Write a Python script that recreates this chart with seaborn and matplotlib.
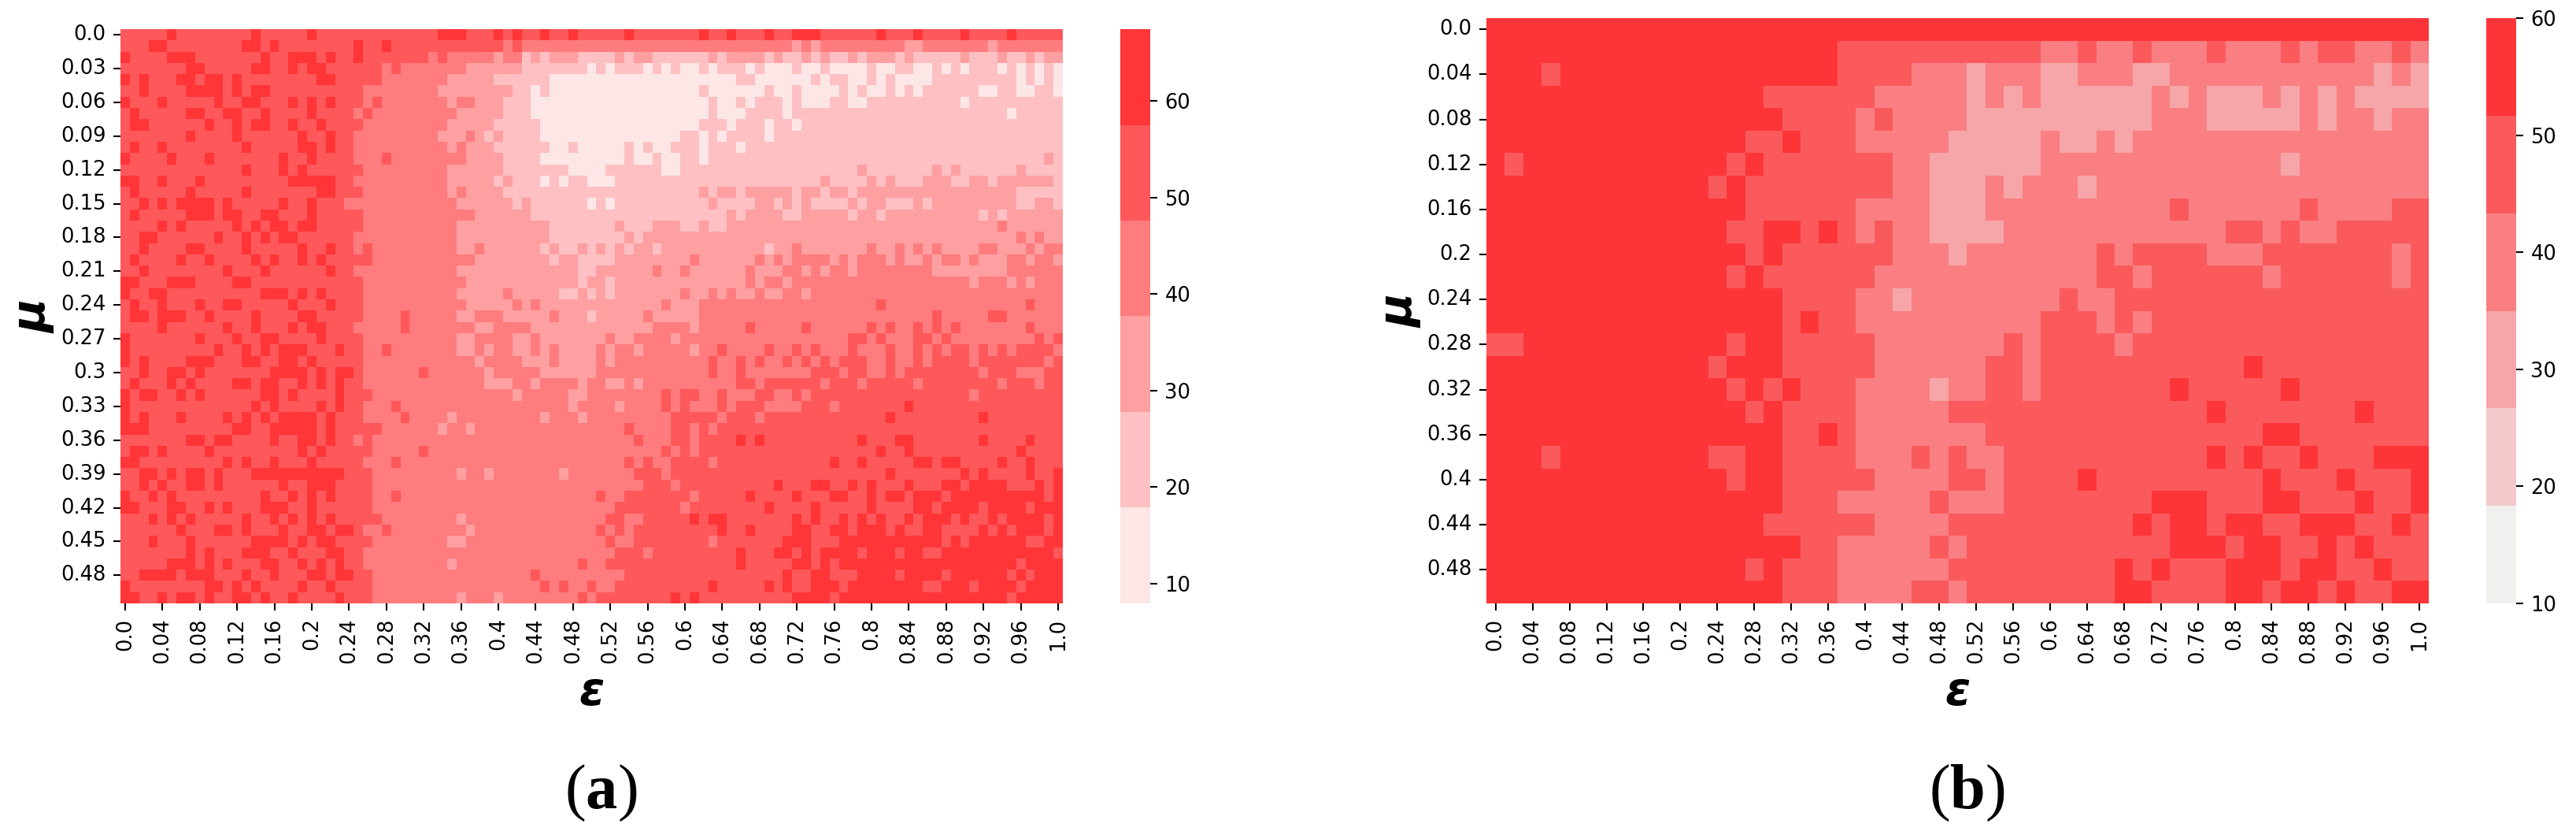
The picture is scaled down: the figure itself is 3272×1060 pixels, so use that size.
import matplotlib
matplotlib.use("Agg")
import matplotlib.pyplot as plt
from matplotlib.colors import ListedColormap
import numpy as np
import pandas as pd
import seaborn as sns

rows_a = [
    "4:5 5:6 4:14 5:15 4:20 5:21 4:34 5:37 4:40 5:41 4:42 5:43 4:45 5:46 4:48 5:49 4:54 5:55 4:62 5:63 4:65 5:66 4:69 5:70 4:72 5:75 4:81 5:82 4:85 5:86 4:90 5:91 4:95 5:96 4:101",
    "4:3 5:5 4:13 5:15 4:16 5:17 4:25 5:26 4:28 5:29 4:41 3:42 4:43 3:72 2:73 3:74 2:75 3:84 2:86 3:93 2:94 3:101",
    "5:1 4:5 5:8 4:15 5:16 4:18 5:21 4:22 5:23 4:25 5:26 4:33 3:34 4:35 3:40 2:41 3:43 1:44 2:45 1:46 2:49 1:53 2:54 1:55 2:57 1:63 2:64 1:65 2:69 1:70 2:71 1:73 2:74 1:75 2:76 1:78 2:79 1:80 2:83 1:84 2:85 1:90 2:91 1:94 2:95 1:97 2:98 1:99 2:101",
    "4:7 5:9 4:14 5:16 4:18 5:19 4:20 5:22 4:28 3:29 4:30 3:37 2:43 1:50 0:51 1:52 0:53 1:56 0:57 1:58 0:59 1:60 0:62 1:63 0:64 1:67 0:68 1:69 0:72 1:73 0:75 1:76 0:80 1:81 0:83 1:85 0:87 1:88 0:89 1:90 0:91 1:94 0:95 1:96 0:97 1:98 0:99 1:100 0:101",
    "5:1 4:2 5:3 4:6 5:8 4:9 5:11 4:12 5:13 4:21 5:23 4:28 3:35 2:40 1:46 0:66 1:68 0:74 1:75 0:76 1:78 0:80 1:81 0:82 1:83 0:87 1:96 0:97 1:98 0:99 1:100 0:101",
    "4:2 5:3 4:7 5:11 4:12 5:13 4:14 5:16 4:26 3:34 2:42 1:44 0:45 1:46 0:62 1:63 0:69 1:70 0:72 1:73 0:77 1:78 0:79 1:80 0:82 1:83 0:84 1:85 0:86 1:92 0:94 1:96 0:98 1:100 0:101",
    "5:1 4:4 5:5 4:10 5:11 4:13 5:15 4:18 5:19 4:20 5:21 4:22 5:23 4:26 3:27 4:28 3:35 2:36 3:38 2:41 1:44 0:63 1:64 0:66 1:67 0:68 1:71 0:72 1:73 0:76 1:78 0:80 1:90 0:91 1:101",
    "4:1 5:2 4:7 5:9 4:11 5:13 4:15 5:16 4:20 5:21 4:25 3:26 4:27 3:36 2:41 1:44 0:63 1:64 0:67 1:71 0:72 1:95 0:96 1:101",
    "4:1 5:3 4:9 5:10 4:12 5:13 4:14 5:16 4:18 5:19 4:21 5:22 4:26 3:35 2:40 1:45 0:62 1:65 0:66 1:69 0:70 1:72 0:73 1:101",
    "4:7 5:8 4:12 5:13 4:19 5:20 4:22 5:23 4:25 3:34 2:37 3:38 2:39 1:40 2:41 1:45 0:60 1:62 0:63 1:64 0:65 1:69 0:70 1:101",
    "4:1 5:2 4:4 5:5 4:13 5:14 4:19 5:21 4:22 5:23 4:25 3:35 2:36 3:37 2:40 1:46 0:48 1:49 0:54 1:55 0:56 1:57 0:59 1:62 0:63 1:66 0:67 1:101",
    "5:1 4:5 5:6 4:9 5:10 4:17 5:18 4:20 5:21 4:25 3:28 4:29 3:37 2:41 1:45 0:54 1:55 0:57 1:58 0:60 1:62 0:63 1:99 2:100 1:101",
    "4:13 5:14 4:17 5:18 4:19 5:20 4:26 3:35 2:41 1:48 0:52 1:58 0:60 1:79 2:80 1:87 2:88 1:89 2:90 1:96 2:97 1:101",
    "5:2 4:4 5:5 4:8 5:9 4:18 5:23 4:25 3:35 2:40 1:41 2:42 1:45 0:46 1:47 0:48 1:50 0:53 1:75 2:76 1:80 2:81 1:82 2:83 1:86 2:89 1:91 2:93 1:94 2:100 1:101",
    "4:1 5:2 4:7 5:8 4:13 5:14 4:21 5:23 4:26 3:35 2:36 3:37 2:41 1:62 2:63 1:64 2:66 1:67 2:72 1:73 2:75 1:76 2:78 1:79 2:96 1:101",
    "4:2 5:3 4:4 5:5 4:6 5:10 4:11 5:12 4:17 5:18 4:20 5:21 4:24 3:36 2:42 1:43 2:44 1:50 0:51 1:52 0:53 1:63 2:64 1:68 2:70 1:71 2:72 1:73 2:74 1:78 2:79 1:80 2:82 1:85 2:86 1:87 2:96 1:98 2:100 1:101",
    "4:1 5:2 4:7 5:10 4:11 5:13 4:15 5:17 4:20 5:21 4:26 3:38 2:44 1:65 2:66 1:67 2:71 1:73 2:78 1:79 2:81 1:82 2:92 1:93 2:94 1:95 2:101",
    "4:4 5:5 4:6 5:7 4:12 5:13 4:14 5:15 4:16 5:18 4:19 5:21 4:26 3:36 2:46 1:53 2:54 1:57 2:60 1:62 2:63 1:65 2:94 3:95 2:101",
    "4:2 5:4 4:10 5:11 4:13 5:14 4:15 5:16 4:17 5:19 4:25 3:36 2:46 1:54 2:55 1:56 2:96 3:97 2:98 3:99 2:101",
    "4:2 5:3 4:7 5:9 4:13 5:14 4:19 5:20 4:22 5:23 4:25 3:26 4:27 3:36 2:38 3:39 2:45 1:46 2:47 1:49 2:50 1:51 2:52 1:53 2:54 1:55 2:57 1:58 2:69 1:70 2:72 3:73 2:80 3:81 2:83 3:84 2:85 3:86 2:87 3:88 2:92 3:94 2:97 3:98 2:99 3:101",
    "4:1 5:2 4:6 5:7 4:9 5:10 4:14 5:15 4:16 5:17 4:19 5:20 4:21 5:22 4:27 3:38 2:46 1:47 2:49 1:53 2:61 3:62 2:68 3:69 2:70 3:71 2:72 3:76 2:77 3:78 2:79 3:82 2:83 3:84 2:86 3:87 2:88 3:90 2:91 3:92 2:95 3:97 2:98 3:100 2:101",
    "4:2 5:3 4:11 5:12 4:15 5:16 4:22 5:23 4:25 3:36 2:49 1:51 2:57 3:58 2:60 3:61 2:67 3:68 2:71 3:73 2:74 3:75 2:76 3:78 2:79 3:87 2:95 3:101",
    "5:2 4:5 5:8 4:12 5:14 4:26 3:37 2:49 1:50 2:52 1:53 2:67 3:68 2:69 3:71 2:72 3:91 2:92 3:95 2:96 3:97 2:98 3:101",
    "5:1 4:3 5:5 4:15 5:18 4:19 5:20 4:21 5:22 4:26 3:36 2:41 3:42 2:47 1:49 2:50 1:51 2:52 1:53 2:60 3:61 2:63 3:64 2:65 3:66 2:68 3:69 2:71 3:73 2:74 3:101",
    "4:1 5:2 4:4 5:5 4:8 5:9 4:11 5:13 4:18 5:19 4:22 5:23 4:26 3:37 2:42 3:43 2:44 3:45 2:58 3:59 2:62 3:81 4:82 3:97 4:98 3:101",
    "4:1 5:3 4:4 5:7 4:9 5:10 4:14 5:15 4:19 5:21 4:26 3:30 4:31 3:36 2:38 3:41 2:46 3:47 2:50 1:51 2:56 3:57 2:62 3:87 4:88 3:93 4:95 3:101",
    "4:4 5:5 4:11 5:12 4:14 5:15 4:18 5:19 4:20 5:22 4:25 3:30 4:31 3:38 2:40 3:44 2:57 3:61 2:62 3:67 4:68 3:73 4:74 3:80 4:81 3:82 4:83 3:85 4:86 3:87 4:88 3:89 4:90 3:97 4:98 3:101",
    "5:1 4:8 5:9 4:12 5:13 4:15 5:17 4:21 5:22 4:26 3:36 2:38 3:42 2:44 3:45 2:52 3:53 2:55 3:59 2:60 3:78 4:80 3:81 4:82 3:85 4:87 3:88 4:89 3:98 4:99 3:100 4:101",
    "5:1 4:10 5:11 4:13 5:14 4:15 5:16 4:17 5:20 4:23 5:24 4:26 3:28 4:29 3:36 2:38 3:39 2:40 3:42 2:44 3:45 2:46 3:47 2:51 3:52 2:53 3:55 2:56 3:61 2:62 3:64 4:65 3:69 4:70 3:72 4:73 3:74 4:75 3:78 4:79 3:82 4:83 3:85 4:86 3:87 4:88 3:89 4:91 3:92 4:93 3:94 4:95 3:96 4:100 3:101",
    "5:1 4:2 5:3 4:7 5:10 4:13 5:15 4:17 5:19 4:20 5:21 4:26 3:38 2:39 3:43 2:46 3:47 2:51 3:52 2:53 3:63 4:64 3:66 4:67 3:68 4:69 3:71 4:72 3:73 4:74 3:75 4:76 3:77 4:80 3:82 4:83 3:85 4:86 3:87 4:91 3:92 4:99 3:100 4:101",
    "4:2 5:3 4:5 5:7 4:8 5:9 4:16 5:20 4:21 5:22 4:23 5:25 4:26 3:32 4:33 3:39 2:40 3:45 2:51 3:63 4:64 3:66 4:67 3:74 4:77 3:78 4:80 3:82 4:83 3:84 4:92 3:93 4:96 3:99 4:101",
    "4:1 5:2 4:5 5:6 4:7 5:8 4:12 5:14 4:15 5:17 4:19 5:20 4:21 5:22 4:23 5:24 4:26 3:39 2:42 3:44 2:45 3:49 2:50 3:52 2:54 3:55 2:56 3:66 4:68 3:69 4:75 3:76 4:79 3:80 4:85 3:86 4:94 3:95 4:98 3:99 4:101",
    "5:1 4:2 5:4 4:6 5:7 4:8 5:9 4:15 5:17 4:18 5:19 4:23 5:24 4:27 3:42 2:43 3:48 2:50 3:58 4:59 3:60 4:62 3:64 4:65 3:68 4:70 3:72 4:73 3:74 4:91 3:92 4:101",
    "5:1 4:14 5:15 4:16 5:17 4:21 5:22 4:23 5:24 4:26 3:29 4:30 3:48 2:49 3:53 2:54 3:58 4:59 3:60 4:61 3:64 4:65 3:66 4:69 3:73 4:76 3:77 4:84 5:85 4:101",
    "5:1 4:2 5:3 4:6 5:7 4:11 5:12 4:13 5:14 4:15 5:16 4:17 5:21 4:22 5:23 4:26 3:30 4:31 3:35 2:36 3:45 2:46 3:49 2:50 3:59 4:64 3:65 4:68 3:69 4:82 5:83 4:92 5:93 4:101",
    "5:3 4:12 5:14 4:16 5:21 4:22 5:23 4:28 3:34 2:35 3:37 2:38 3:54 4:55 3:59 4:61 3:62 4:63 3:64 4:101",
    "4:7 5:9 4:10 5:12 4:16 5:17 4:19 5:21 4:22 5:23 4:25 3:26 4:27 3:55 4:56 3:59 4:61 3:62 4:66 5:67 4:68 5:69 4:79 5:80 4:83 5:85 4:92 5:93 4:97 5:98 4:101",
    "4:1 5:3 4:4 5:5 4:9 5:10 4:19 5:20 4:21 5:22 4:27 3:32 4:33 3:58 4:59 3:60 4:61 3:62 4:81 5:82 4:84 5:85 4:96 5:97 4:101",
    "5:2 4:11 5:12 4:13 5:14 4:16 5:17 4:20 5:21 4:26 3:29 4:30 3:54 4:55 3:56 4:57 3:59 4:63 3:64 4:76 5:77 4:79 5:80 4:85 5:87 4:88 5:90 4:94 5:95 4:97 5:98 4:101",
    "4:2 5:4 4:5 5:6 4:7 5:9 4:10 5:11 4:14 5:24 4:27 3:36 2:37 3:39 2:40 3:47 2:48 3:55 4:58 3:59 4:82 5:83 4:90 5:91 4:92 5:93 4:97 5:98 4:100 5:101",
    "4:2 5:3 4:4 5:5 4:7 5:9 4:10 5:11 4:17 5:18 4:20 5:23 4:27 3:56 4:59 3:60 4:70 5:71 4:74 5:76 4:78 5:79 4:80 5:81 4:84 5:85 4:88 5:90 4:91 5:95 4:98 5:99 4:100 5:101",
    "5:1 4:3 5:4 4:5 5:6 4:15 5:16 4:18 5:19 4:20 5:21 4:22 5:23 4:27 3:29 4:30 3:51 4:52 3:54 4:61 3:62 4:67 5:68 4:72 5:73 4:76 5:78 4:80 5:81 4:82 5:84 4:85 5:88 4:89 5:99 4:100 5:101",
    "5:2 4:5 5:7 4:9 5:10 4:11 5:12 4:15 5:18 4:20 5:21 4:27 3:53 4:60 3:61 4:69 5:70 4:74 5:75 4:80 5:81 4:85 5:87 4:88 5:92 4:93 5:97 4:98 5:101",
    "4:3 5:4 4:5 5:6 4:7 5:8 4:13 5:14 4:16 5:17 4:18 5:19 4:20 5:21 4:22 5:23 4:28 3:36 2:37 3:52 4:54 3:56 4:61 5:62 4:63 5:65 4:72 5:73 4:74 5:75 4:77 5:78 4:79 5:80 4:81 5:82 4:84 5:85 4:86 5:89 4:90 5:91 4:93 5:94 4:95 5:99 4:100 5:101",
    "4:6 5:7 4:10 5:12 4:13 5:14 4:17 5:18 4:20 5:22 4:23 5:25 4:26 3:28 4:29 3:37 2:38 3:51 4:52 3:53 4:54 3:55 4:64 5:65 4:67 5:68 4:72 5:74 4:76 5:78 4:79 5:82 4:83 5:84 4:86 5:88 4:92 5:93 4:94 5:95 4:96 5:99 4:100 5:101",
    "4:3 5:4 4:7 5:8 4:14 5:18 4:19 5:20 4:21 5:23 4:27 3:35 2:37 3:52 4:53 3:55 4:63 3:64 4:71 5:74 4:77 5:88 4:89 5:90 4:91 5:97 4:99 5:101",
    "4:7 5:8 4:9 5:10 4:13 5:16 4:18 5:19 4:22 5:24 4:26 3:53 4:56 3:57 4:66 5:67 4:70 5:72 4:73 5:74 4:75 5:79 4:80 5:83 4:84 5:86 4:88 5:100 4:101",
    "4:5 5:8 4:9 5:10 4:11 5:12 4:15 5:17 4:19 5:20 4:21 5:22 4:23 5:24 4:26 3:35 2:36 3:49 4:50 3:52 4:66 5:67 4:72 5:74 4:75 5:76 4:77 5:96 4:97 5:101",
    "4:2 5:6 4:7 5:10 4:13 5:14 4:16 5:17 4:20 5:22 4:23 5:25 4:27 3:44 4:45 3:54 4:71 5:72 4:74 5:76 4:79 5:83 4:84 5:88 4:89 5:95 4:96 5:97 4:98 5:101",
    "5:1 4:9 5:11 4:12 5:13 4:14 5:15 4:19 5:20 4:22 5:23 4:27 3:45 4:46 3:47 4:48 3:50 4:51 3:53 4:63 5:64 4:69 5:70 4:71 5:72 4:74 5:77 4:78 5:86 4:88 5:91 4:92 5:96 4:97 5:101",
    "5:2 4:4 5:5 4:6 5:8 4:9 5:10 4:12 5:14 4:15 5:16 4:18 5:19 4:23 5:24 4:27 3:36 2:37 3:40 2:41 3:49 4:50 3:51 4:59 5:60 4:61 5:62 4:72 5:76 4:77 5:95 4:96 5:101",
]

rows_b = [
    "5:51",
    "5:19 4:30 3:32 4:33 3:35 4:36 3:39 4:40 3:43 4:44 3:45 4:47 3:49 4:50 3:51",
    "5:3 4:4 5:19 4:23 3:26 2:27 3:30 2:32 3:35 2:37 3:48 2:49 3:50 2:51",
    "5:15 4:21 3:26 2:27 3:28 2:29 3:30 2:36 3:37 2:38 3:39 2:42 3:43 2:44 3:45 2:46 3:47 2:51",
    "5:16 4:20 3:21 4:22 3:26 2:36 3:39 2:44 3:45 2:46 3:48 2:49 3:51",
    "5:14 4:16 5:17 4:20 3:25 2:30 3:31 2:33 3:34 2:35 3:51",
    "5:1 4:2 5:13 4:14 5:15 4:22 3:24 2:30 3:43 2:44 3:51",
    "5:12 4:13 5:14 4:22 3:24 2:27 3:28 2:29 3:32 2:33 3:51",
    "5:14 4:20 3:24 2:27 3:37 4:38 3:44 4:45 3:49 4:51",
    "5:13 4:15 5:17 4:18 5:19 4:20 3:21 4:22 3:24 2:28 3:40 4:42 3:43 4:44 3:46 4:51",
    "5:14 4:15 5:16 4:22 3:25 2:26 3:33 4:34 3:35 4:39 3:42 4:49 3:50 4:51",
    "5:13 4:14 5:15 4:21 3:33 4:35 3:36 4:42 3:43 4:49 3:50 4:51",
    "5:16 4:20 3:22 2:23 3:31 4:32 3:34 4:51",
    "5:16 4:17 5:18 4:20 3:30 4:33 3:34 4:35 3:36 4:51",
    "4:2 5:13 4:14 5:16 4:21 3:28 4:29 3:30 4:34 3:35 4:51",
    "5:12 4:13 5:16 4:21 3:27 4:29 3:30 4:41 5:42 4:51",
    "5:13 4:14 5:15 4:16 5:17 4:20 3:24 2:25 3:27 4:29 3:30 4:37 5:38 4:43 5:44 4:51",
    "5:14 4:15 5:16 4:20 3:25 4:39 5:40 4:47 5:48 4:51",
    "5:16 4:18 5:19 4:20 3:27 4:42 5:44 4:51",
    "5:3 4:4 5:12 4:14 5:16 4:20 3:23 4:24 3:25 4:26 3:28 4:39 5:40 4:41 5:42 4:44 5:45 4:48 5:51",
    "5:13 4:14 5:16 4:21 3:25 4:27 3:28 4:32 5:33 4:42 5:43 4:46 5:47 4:50 5:51",
    "5:16 4:19 3:24 4:25 3:28 4:36 5:39 4:42 5:44 4:47 5:48 4:50 5:51",
    "5:15 4:21 3:25 4:35 5:36 4:37 5:39 4:40 5:42 4:44 5:47 4:49 5:50 4:51",
    "5:17 4:19 3:24 4:25 3:26 4:37 5:40 4:41 5:43 4:45 5:46 4:47 5:48 4:51",
    "5:14 4:15 5:16 4:19 3:25 4:34 5:35 4:36 5:37 4:40 5:43 4:44 5:46 4:48 5:49 4:51",
    "5:16 4:19 3:23 4:25 3:26 4:34 5:36 4:40 5:42 4:43 5:45 4:46 5:47 4:49 5:51",
]

# Value of each level, the middle of its colorbar band
level_values_a = [13, 23, 33, 43, 53, 62.5]
level_values_b = [14, 22, 31, 39, 47, 56]

colors_a = ["#FDE6E6", "#FEC0C2", "#FE9FA1", "#FE7C7E", "#FE585B", "#FF3537"]
colors_b = ["#F0F0EE", "#F3C9CB", "#F6A5A8", "#F97F82", "#FB5A5D", "#FE3538"]

cbar_ticks = [10, 20, 30, 40, 50, 60]


def expand(row, values):
    cells = []
    for token in row.split():
        level, end = token.split(":")
        cells += [values[int(level)]] * (int(end) - len(cells))
    return cells


def make_table(rows, values, step):
    table = np.array([expand(row, values) for row in rows])
    index = [str(round(i * step, 2)) for i in range(table.shape[0])]
    columns = [str(round(i * step, 2)) for i in range(table.shape[1])]
    return pd.DataFrame(table, index=index, columns=columns)


df_a = make_table(rows_a, level_values_a, 0.01)
df_b = make_table(rows_b, level_values_b, 0.02)

sns.set_style("white", rc={"text.color": "black", "axes.labelcolor": "black",
                           "xtick.color": "black", "ytick.color": "black"})
plt.rcParams["font.family"] = ["DejaVu Sans"]
plt.rcParams["mathtext.fontset"] = "custom"
plt.rcParams["mathtext.rm"] = "Liberation Serif"
plt.rcParams["mathtext.bf"] = "Liberation Serif:bold"

W, H = 3273, 1060
fig = plt.figure(figsize=(W / 100, H / 100), dpi=100)


def box(left, top, width, height):
    return [left / W, (H - top - height) / H, width / W, height / H]


ax_a = fig.add_axes(box(153, 37, 1197, 729))
cax_a = fig.add_axes(box(1423, 37, 38, 729))
ax_b = fig.add_axes(box(1888, 23, 1197, 743))
cax_b = fig.add_axes(box(3158, 23, 38, 743))

sns.heatmap(df_a, ax=ax_a, cbar_ax=cax_a, cmap=ListedColormap(colors_a), vmin=7.93, vmax=67.43,
            xticklabels=4, yticklabels=3, cbar_kws={"ticks": cbar_ticks})
sns.heatmap(df_b, ax=ax_b, cbar_ax=cax_b, cmap=ListedColormap(colors_b), vmin=10, vmax=60,
            xticklabels=2, yticklabels=2, cbar_kws={"ticks": cbar_ticks})

for ax, cax, xpos, ypos in [(ax_a, cax_a, -0.093, -0.155), (ax_b, cax_b, -0.092, -0.152)]:
    ax.tick_params(axis="both", labelsize=18.5, length=6.3, width=1.5, pad=7, color="black", left=True, bottom=True)
    ax.tick_params(axis="x", labelrotation=90)
    ax.tick_params(axis="y", labelrotation=0)
    cax.tick_params(axis="y", labelsize=18.5, length=6.3, width=1.5, pad=7, color="black", right=True)
    ax.set_xlabel("\u03b5", fontsize=42, fontweight="bold", fontstyle="italic", va="center")
    ax.set_ylabel("\u03bc", fontsize=42, fontweight="bold", fontstyle="italic", va="center")
    ax.xaxis.set_label_coords(0.5, ypos)
    ax.yaxis.set_label_coords(xpos, 0.5)

# Panel captions
fig.text(763 / W, 1 - 1007 / H, r"($\mathbf{a}$)", family="Liberation Serif", fontsize=58, ha="center", va="center")
fig.text(2498 / W, 1 - 1007 / H, r"($\mathbf{b}$)", family="Liberation Serif", fontsize=58, ha="center", va="center")

fig.savefig("out.png", dpi=100)
